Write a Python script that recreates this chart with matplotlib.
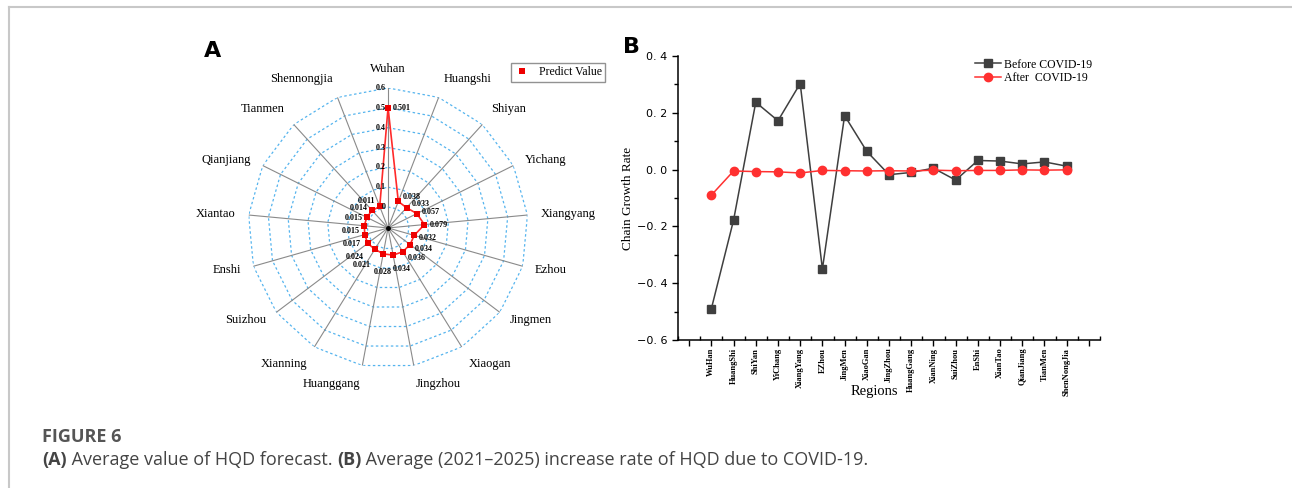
import numpy as np
import matplotlib.pyplot as plt
from matplotlib.lines import Line2D

# panel A data (clockwise from top)
regions_a = ["Wuhan", "Huangshi", "Shiyan", "Yichang", "Xiangyang", "Ezhou", "Jingmen",
             "Xiaogan", "Jingzhou", "Huanggang", "Xianning", "Suizhou", "Enshi",
             "Xiantao", "Qianjiang", "Tianmen", "Shennongjia"]
predict = [0.501, 0.038, 0.033, 0.057, 0.079, 0.032, 0.034, 0.036, 0.034, 0.028,
           0.021, 0.024, 0.017, 0.015, 0.015, 0.014, 0.011]
rings = [0, 0.1, 0.2, 0.3, 0.4, 0.5, 0.6]

# panel B data
regions_b = ["WuHan", "HuangShi", "ShiYan", "YiChang", "XiangYang", "EZhou", "JingMen",
             "XiaoGan", "JingZhou", "HuangGang", "XianNing", "SuiZhou", "EnShi",
             "XianTao", "QianJiang", "TianMen", "ShenNongJia"]
before = [-0.49, -0.178, 0.237, 0.172, 0.303, -0.35, 0.19, 0.064, -0.018, -0.01,
          0.005, -0.037, 0.032, 0.03, 0.02, 0.027, 0.012]
after = [-0.09, -0.005, -0.007, -0.008, -0.012, -0.003, -0.004, -0.005, -0.004,
         -0.005, -0.002, -0.004, -0.003, -0.003, -0.001, -0.002, -0.001]

serif = ["Liberation Serif", "DejaVu Serif"]

fig = plt.figure(figsize=(12.92, 4.88), dpi=100)

# frame lines of the page
fig.add_artist(Line2D([0.007, 1.0], [0.986, 0.986], color="#c8c8c8", lw=1.5))
fig.add_artist(Line2D([0.007, 0.007], [0.0, 0.986], color="#c8c8c8", lw=1.5))

# ---------- panel A: radar ----------
ax = fig.add_axes([0.192, 0.246, 0.2167, 0.5738], projection="polar")
ax.set_theta_zero_location("N")
ax.set_theta_direction(-1)
r0 = -0.105
ax.set_ylim(r0, 0.6)
ax.set_axis_off()

n = len(regions_a)
ang = np.linspace(0, 2 * np.pi, n, endpoint=False)
ang_c = np.append(ang, ang[0])

for v in rings:
    ax.plot(ang_c, [v] * (n + 1), color="#55b4ee", lw=0.9, ls=(0, (2, 2)))
for a in ang:
    ax.plot([a, a], [r0, 0.6], color="#8a8a8a", lw=0.8)
ax.plot([0], [r0], "o", color="black", ms=2.5)

vals_c = np.append(predict, predict[0])
ax.plot(ang_c, vals_c, color="#ff2a2a", lw=1.2, marker="s", ms=4.8, mew=0,
        mfc="#ee0000")

for v in rings:
    ax.annotate("%g" % v, (0, v), xytext=(-1.5, 0), textcoords="offset points",
                ha="right", va="center", fontsize=5.8, fontweight="bold",
                family=serif)

# value labels: right half to the right, left half to the left, bottom below
px = 1.39  # pixels per point
for a, v in zip(ang, predict):
    s, c = np.sin(a), np.cos(a)
    if a == 0:
        off, ha = (3.5, 0), "left"
    elif abs(s) < 0.3:
        off, ha = ((0, -10), "left") if s > 0 else ((0, -13), "center")
    elif s > 0:
        off, ha = (3.5, (6 * c - 1) / px), "left"
    else:
        off, ha = (-3, (12 * c - 6) / px), "right"
    ax.annotate("%.3f" % v, (a, v), xytext=off, textcoords="offset points",
                ha=ha, va="center", fontsize=5.8, fontweight="bold", family=serif)

for a, name in zip(ang, regions_a):
    s, c = np.sin(a), np.cos(a)
    ha = "left" if s > 0.1 else ("right" if s < -0.1 else "center")
    va = "bottom" if c > 0.7 else ("top" if c < -0.7 else "center")
    ax.text(a, 0.665, name, ha=ha, va=va, fontsize=9, family=serif, clip_on=False)

fig.legend(handles=[Line2D([], [], ls="", marker="s", ms=4, mew=0, color="#ee0000")],
           labels=["Predict Value"], loc="upper right",
           bbox_to_anchor=(0.4683, 0.871), prop={"family": serif, "size": 8.5},
           frameon=True, fancybox=False, edgecolor="#777777", handlelength=1.2,
           borderpad=0.3, handletextpad=0.8, borderaxespad=0)

fig.text(0.158, 0.895, "A", fontsize=16, fontweight="bold", ha="left", va="center")

# ---------- panel B: lines ----------
bx = fig.add_axes([0.5248, 0.3033, 0.3266, 0.582])
x = np.arange(len(regions_b))
bx.plot(x, before, color="#3f3f3f", lw=1.1, marker="s", ms=6, label="Before COVID-19")
bx.plot(x, after, color="#ff3030", lw=1.1, marker="o", ms=6, label="After  COVID-19")
bx.set_xlim(-1.5, 17.5)
bx.set_ylim(-0.6, 0.4)
bx.set_xticks(np.arange(-1, 18))
bx.set_xticklabels([""] + regions_b + [""], rotation=90, fontsize=6,
                   fontweight="bold", family=serif)
bx.set_xticks(np.arange(-1.5, 18, 1), minor=True)
bx.set_yticks([-0.6, -0.4, -0.2, 0.0, 0.2, 0.4])
bx.set_yticklabels(["\u22120. 6", "\u22120. 4", "\u22120. 2", "0. 0", "0. 2", "0. 4"],
                   fontsize=8)
bx.set_yticks(np.arange(-0.5, 0.4, 0.2), minor=True)
bx.tick_params(axis="both", which="major", direction="out", length=4, width=1)
bx.tick_params(axis="x", which="major", pad=1.5)
bx.tick_params(axis="x", which="minor", direction="in", length=3, width=1)
bx.tick_params(axis="y", which="minor", direction="out", length=3, width=1)
for sp in ["top", "right"]:
    bx.spines[sp].set_visible(False)
for sp in ["left", "bottom"]:
    bx.spines[sp].set_linewidth(1.1)
bx.set_ylabel("Chain Growth Rate", fontsize=9.5, family=serif, labelpad=2)
bx.set_xlabel("Regions", fontsize=10.5, family=serif)
bx.xaxis.set_label_coords(0.465, -0.16)
bx.legend(loc="upper right", bbox_to_anchor=(1.0, 1.02), frameon=False,
          prop={"family": serif, "size": 8.5}, handlelength=2.2, handletextpad=0.2,
          labelspacing=0.1, borderpad=0.2)

fig.text(0.4825, 0.903, "B", fontsize=16, fontweight="bold", ha="left", va="center")

# ---------- caption ----------
fig.text(0.0325, 0.105, "FIGURE 6", fontsize=13, fontweight="bold", color="#555555",
         family="Open Sans", va="center")
parts = [("(A)", "bold"), (" Average value of HQD forecast. ", "normal"),
         ("(B)", "bold"), (" Average (2021\u20132025) increase rate of HQD due to COVID-19.",
                           "normal")]
renderer = fig.canvas.get_renderer()
xpos = 0.0325
for txt, w in parts:
    t = fig.text(xpos, 0.058, txt, fontsize=13, fontweight=w, color="#444444",
                 family="Open Sans", va="center")
    bb = t.get_window_extent(renderer)
    xpos += bb.width / fig.bbox.width

fig.savefig("out.png", dpi=100)
